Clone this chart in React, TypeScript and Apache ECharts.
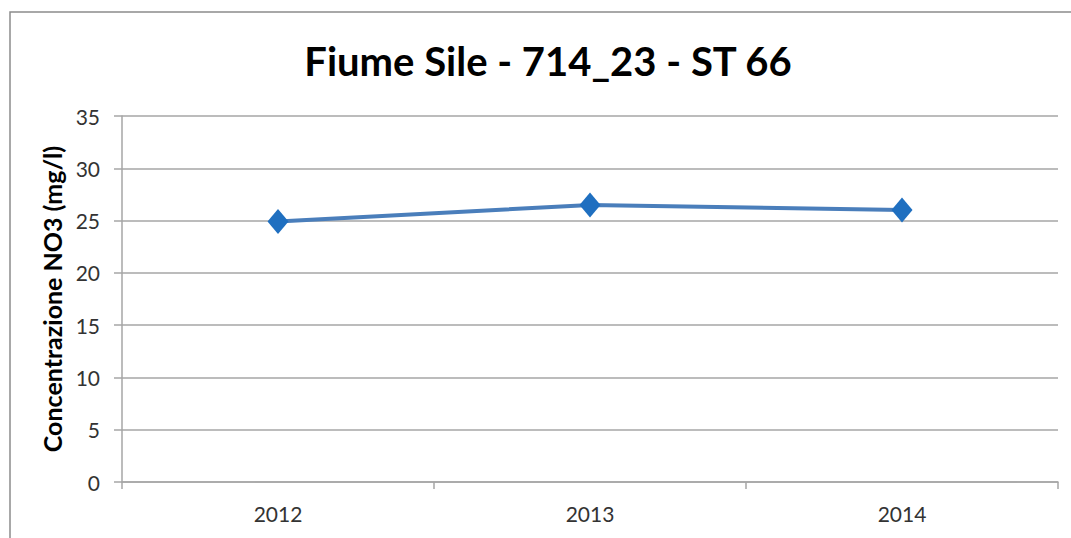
import React, { useEffect, useRef } from "react";
import * as echarts from "echarts";

const titleText = "Fiume Sile - 714_23 - ST 66";
const yAxisName = "Concentrazione NO3 (mg/l)";
const categories = ["2012", "2013", "2014"];
const values = [24.9, 26.5, 26.0];

export default function App() {
  const ref = useRef<HTMLDivElement>(null);
  useEffect(() => {
    if (!ref.current) return;
    const chart = echarts.init(ref.current, undefined, { renderer: "svg" });
    chart.setOption({
      animation: false,
      backgroundColor: "#ffffff",
      title: {
        text: titleText,
        left: 543,
        textAlign: "center",
        top: 36,
        textStyle: { fontFamily: "Lato", fontWeight: "bold", fontSize: 40, color: "#000" },
      },
      graphic: [
        {
          type: "rect",
          shape: { x: 10, y: 12, width: 1100, height: 600 },
          style: { fill: "none", stroke: "#8c8c8c", lineWidth: 1.5 },
          silent: true,
        },
      ],
      grid: { left: 122, right: 13, top: 116, bottom: 56, containLabel: false },
      xAxis: {
        type: "category",
        data: categories,
        boundaryGap: true,
        axisLine: { lineStyle: { color: "#a6a6a6", width: 1.5 } },
        axisTick: { show: true, length: 7, lineStyle: { color: "#a6a6a6", width: 1.5 } },
        axisLabel: { fontFamily: "Lato", fontSize: 21, color: "#333", margin: 21 },
      },
      yAxis: {
        type: "value",
        min: 0,
        max: 35,
        interval: 5,
        name: yAxisName,
        nameLocation: "middle",
        nameGap: 57,
        nameTextStyle: { fontFamily: "Lato", fontWeight: "bold", fontSize: 25, color: "#000" },
        axisLine: { show: true, lineStyle: { color: "#a6a6a6", width: 1.5 } },
        axisTick: { show: true, length: 8, lineStyle: { color: "#a6a6a6", width: 1.5 } },
        axisLabel: { fontFamily: "Lato", fontSize: 21, color: "#333", margin: 22 },
        splitLine: { lineStyle: { color: "#a6a6a6", width: 1.5 } },
      },
      series: [
        {
          type: "line",
          data: values,
          symbol: "diamond",
          symbolSize: [21, 25],
          lineStyle: { color: "#4a7ebb", width: 4 },
          itemStyle: { color: "#1f6fc0" },
        },
      ],
    });
    return () => chart.dispose();
  }, []);
  return (
    <div
      ref={ref}
      style={{ position: "absolute", left: 0, top: 0, width: 1071, height: 538 }}
    />
  );
}
